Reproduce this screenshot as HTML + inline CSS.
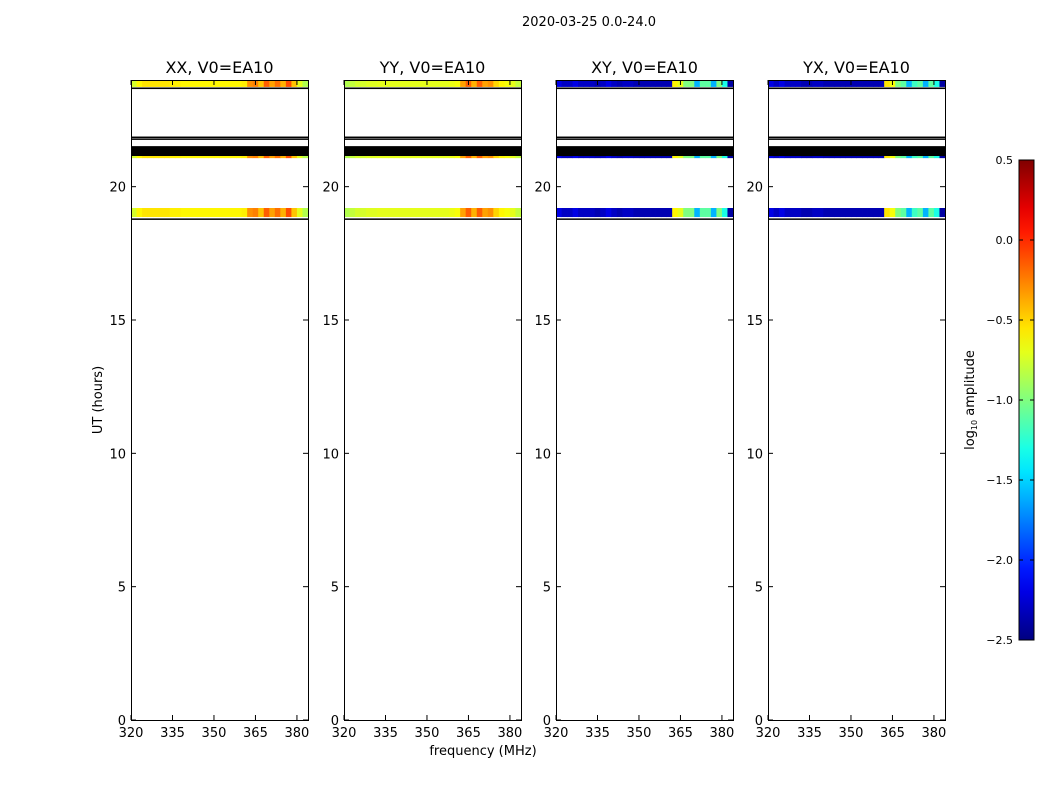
<!DOCTYPE html>
<html><head><meta charset="utf-8"><style>
body{margin:0;background:#fff}
svg{display:block;font-family:"DejaVu Sans","Liberation Sans",sans-serif}
</style></head><body>
<svg id="fig" width="1050" height="800" viewBox="0 0 1050 800" xmlns="http://www.w3.org/2000/svg">
<text x="589" y="26" font-size="13" text-anchor="middle">2020-03-25 0.0-24.0</text>
<text transform="translate(102,400) rotate(-90)" font-size="13" text-anchor="middle">UT (hours)</text>
<text x="483" y="755" font-size="13" text-anchor="middle">frequency (MHz)</text>
<g id="panels"></g>
<g id="cbar"></g>
</svg>
<script>
// ---- data ----
const panelNames = ["XX, V0=EA10","YY, V0=EA10","XY, V0=EA10","YX, V0=EA10"];
const freqBins = [320,322,324,326,328,330,332,334,336,338,340,342,344,346,348,350,352,354,356,358,360,362,364,366,368,370,372,374,376,378,380,382]; // bin starts, 2 MHz wide
const specXX = [-0.75,-0.6,-0.55,-0.55,-0.55,-0.55,-0.55,-0.58,-0.58,-0.6,-0.6,-0.6,-0.6,-0.6,-0.6,-0.6,-0.6,-0.6,-0.6,-0.6,-0.58,-0.3,-0.25,-0.45,-0.15,-0.35,-0.2,-0.4,-0.1,-0.45,-0.7,-0.85];
const specYY = [-0.85,-0.8,-0.75,-0.75,-0.72,-0.72,-0.7,-0.7,-0.7,-0.7,-0.7,-0.7,-0.7,-0.7,-0.7,-0.7,-0.7,-0.7,-0.7,-0.68,-0.65,-0.35,-0.15,-0.4,-0.15,-0.35,-0.3,-0.5,-0.6,-0.65,-0.7,-0.8];
const specXY = [-2.2,-2.3,-2.3,-2.2,-2.3,-2.3,-2.3,-2.35,-2.3,-2.2,-2.3,-2.35,-2.3,-2.3,-2.35,-2.35,-2.35,-2.35,-2.35,-2.35,-2.35,-0.6,-0.7,-1.0,-1.0,-1.6,-1.1,-1.1,-1.6,-1.0,-1.3,-2.4];
const specYX = [-2.2,-2.3,-2.2,-2.3,-2.3,-2.3,-2.35,-2.35,-2.3,-2.3,-2.35,-2.35,-2.35,-2.35,-2.35,-2.35,-2.35,-2.35,-2.35,-2.35,-2.35,-0.55,-0.65,-1.0,-1.1,-1.6,-1.2,-1.1,-1.6,-1.1,-1.3,-2.4];
const spectra = [specXX, specYY, specXY, specYX];
const bandStart = [23.74, 21.07, 18.86]; // hours (colored data bands)
const bandEnd   = [23.98, 21.15, 19.20];
const blackStart = [23.66, 21.78, 21.85, 21.15, 18.76];
const blackEnd   = [23.72, 21.81, 21.88, 21.52, 18.81];
const xTicks = [320,335,350,365,380];
const yTicks = [0,5,10,15,20];
const cTicks = [0.5,0.0,-0.5,-1.0,-1.5,-2.0,-2.5];
// ---- layout ----
const panelLeft = [131,344,556,768], pw = 177, axTop = 80, axBot = 720;
const fmin = 320, fmax = 384, tmin = 0, tmax = 24, vmin = -2.5, vmax = 0.5;
const NS = "http://www.w3.org/2000/svg";
function el(t, a, p){const e=document.createElementNS(NS,t);for(const k in a)e.setAttribute(k,a[k]);p.appendChild(e);return e;}
function jet(v){let x=(v-vmin)/(vmax-vmin);x=Math.max(0,Math.min(1,x));
 const f=t=>Math.max(0,Math.min(1,t));
 const r=f(1.5-Math.abs(4*x-3)),g=f(1.5-Math.abs(4*x-2)),b=f(1.5-Math.abs(4*x-1));
 return `rgb(${Math.round(r*255)},${Math.round(g*255)},${Math.round(b*255)})`;}
const yS = h => axBot - (h - tmin) / (tmax - tmin) * (axBot - axTop);
const fmt = v => (v<0?"\u2212":"") + Math.abs(v).toFixed(1);
const panelsG = document.getElementById('panels');
panelNames.forEach((pname, pi) => {
  const L = panelLeft[pi];
  const xS = f => L + (f - fmin) / (fmax - fmin) * pw;
  const g = el('g', {}, panelsG);
  
  
  const spec = spectra[pi];
  bandStart.forEach((b0, bi) => {
    freqBins.forEach((f, fi) => {
      const r = el('rect', {x:xS(f), y:yS(bandEnd[bi]), width:xS(f+2)-xS(f)+0.4, height:yS(b0)-yS(bandEnd[bi]), fill:jet(spec[fi])}, g);
      
      
    });
  });
  blackStart.forEach((b0, bi) => {
    const r = el('rect', {x:L, y:yS(blackEnd[bi]), width:pw, height:Math.max(1.5, yS(b0)-yS(blackEnd[bi])), fill:'#000'}, g);
    
    
  });
  el('rect', {x:L+0.5, y:axTop+0.5, width:pw, height:axBot-axTop, fill:'none', stroke:'#000', 'stroke-width':1}, g);
  xTicks.forEach(t => {
    const x = xS(t);
    el('line', {x1:x, x2:x, y1:axBot, y2:axBot-5, stroke:'#000'}, g);
    el('line', {x1:x, x2:x, y1:axTop, y2:axTop+5, stroke:'#000'}, g);
    const tx = el('text', {x:x, y:axBot+17, 'font-size':13, 'text-anchor':'middle'}, g);
    tx.textContent = t;
    
    
  });
  yTicks.forEach(t => {
    const y = yS(t);
    el('line', {x1:L, x2:L+5, y1:y, y2:y, stroke:'#000'}, g);
    el('line', {x1:L+pw, x2:L+pw-5, y1:y, y2:y, stroke:'#000'}, g);
    const tx = el('text', {x:L-5, y:y+5, 'font-size':13, 'text-anchor':'end'}, g);
    tx.textContent = t;
    
    
  });
  const tt = el('text', {x:L+pw/2, y:axTop-7, 'font-size':16, 'text-anchor':'middle'}, g);
  tt.textContent = pname;
  
  
});
// colorbar
const cb = document.getElementById('cbar');
const cx = 1019, cw = 15, ct = 160, cbt = 640;
const cY = v => cbt - (v - vmin) / (vmax - vmin) * (cbt - ct);
const defs = el('defs', {}, cb);
const lg = el('linearGradient', {id:'jetg', x1:0, y1:1, x2:0, y2:0}, defs);
for (let i = 0; i <= 20; i++) el('stop', {offset:i/20, 'stop-color':jet(vmin + i/20*(vmax-vmin))}, lg);
el('rect', {x:cx, y:ct, width:cw, height:cbt-ct, fill:'url(#jetg)', stroke:'#000', 'stroke-width':1}, cb);
cTicks.forEach(v => {
  const y = cY(v);
  el('line', {x1:cx, x2:cx+4, y1:y, y2:y, stroke:'#000'}, cb);
  el('line', {x1:cx+cw, x2:cx+cw-4, y1:y, y2:y, stroke:'#000'}, cb);
  const tx = el('text', {x:1013, y:y+4, 'font-size':11, 'text-anchor':'end'}, cb);
  tx.textContent = fmt(v);
  
  
});
const cl = el('text', {transform:'translate(974,400) rotate(-90)', 'font-size':13, 'text-anchor':'middle'}, cb);
cl.innerHTML = 'log<tspan font-size="8" dy="3">10</tspan><tspan dy="-3"> amplitude</tspan>';


</script>
</body></html>
